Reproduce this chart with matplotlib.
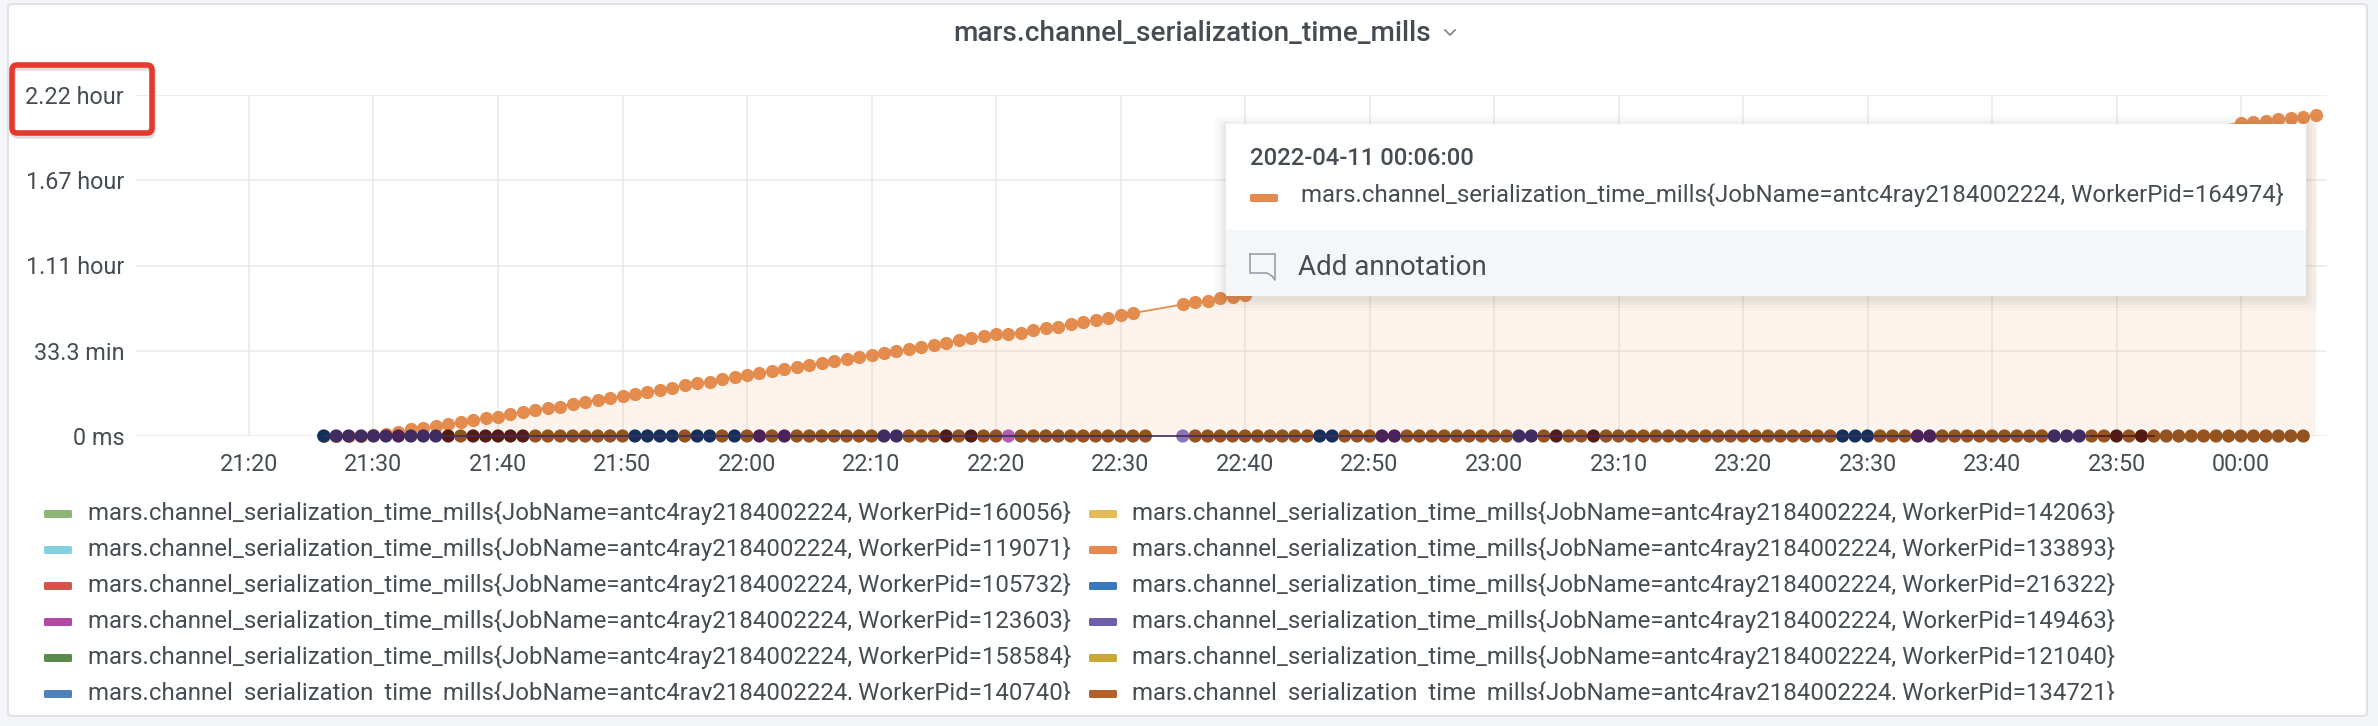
import pandas as pd
import matplotlib
matplotlib.use('Agg')
import matplotlib.pyplot as plt
from matplotlib.patches import Rectangle, FancyBboxPatch

plt.rcParams['font.family'] = ['Roboto', 'DejaVu Sans']

W, H = 2378, 726
TEXT = '#464c54'
GRID = '#e9e9eb'
ORANGE = '#e48c4e'

title = 'mars.channel_serialization_time_mills'
y_ticks = [0, 33.3, 66.6, 100, 133.2]
y_labels = ['0 ms', '33.3 min', '1.11 hour', '1.67 hour', '2.22 hour']
x_labels = ['21:20', '21:30', '21:40', '21:50', '22:00', '22:10', '22:20', '22:30', '22:40', '22:50',
            '23:00', '23:10', '23:20', '23:30', '23:40', '23:50', '00:00']

# minutes. 22:41 - 23:59 is behind the tooltip
orange_a = [0, 0, 0, 0, 0.3, 0.9, 1.7, 2.6, 3.0, 3.9, 4.6, 5.5, 6.1, 7.0, 7.6, 8.7, 9.4, 10.3, 11.1, 11.5,
            12.6, 13.1, 14.1, 14.8, 15.6, 16.5, 17.3, 18.0, 18.9, 19.8, 20.6, 21.2, 22.1, 22.9, 24.0, 24.5,
            25.4, 26.2, 26.8, 27.7, 28.6, 29.3, 30.2, 30.9, 31.8, 32.6, 33.2, 34.1, 34.9, 35.5, 36.5, 37.4,
            38.2, 39.1, 39.8, 40.0, 40.4, 41.3, 42.1, 42.7, 43.9, 44.6, 45.3, 46.2, 47.1, 48.0]  # from 21:26
orange_b = [51.4, 52.3, 52.9, 53.8, 54.4, 55.1]  # from 22:35
orange_c = [122.4, 122.8, 123.2, 123.7, 124.1, 124.7, 125.4]  # from 00:00

# top colour of the pile of zero series, one letter per minute
zero_a = 'NPPPPPVPPPRBRRRRRBBBBBBBBNNNNBNNBNBVBVBBBBBBBPPBBBRBRBBMBBBBBBBBBBBB'[:67]  # from 21:26
zero_b = ('LBBBBBBBBBBNNBBBVVBBBBBBBBB' + 'PPBRBBRBBBBBBBBBBBBBBBBBBB' + 'NNNBBBVVBBBBBBBBBPPPBBRBR'
          + 'BBBBBBBBBBBBB')  # from 22:35
zero_colors = {'N': '#12305a', 'P': '#3f2c60', 'V': '#4d2058', 'R': '#561a14', 'B': '#94531f',
               'M': '#b45cb0', 'L': '#8b73b5'}

job = 'mars.channel_serialization_time_mills{JobName=antc4ray2184002224, WorkerPid=%s}'
legend_left = ['160056', '119071', '105732', '123603', '158584', '140740']
legend_right = ['142063', '133893', '216322', '149463', '121040', '134721']
colors_left = ['#8db573', '#85d0e0', '#d4534a', '#b04aa5', '#5a8a4c', '#5080bb']
colors_right = ['#e5bb55', '#e5894d', '#3a78c0', '#6f5ea8', '#cca835', '#b5602a']


def minutes(start, n):
    day = '2022-04-10 ' if start > '12' else '2022-04-11 '
    return pd.date_range(day + start, periods=n, freq='min')


fig = plt.figure(figsize=(W / 100, H / 100), dpi=100, facecolor='#f4f5f8')

bg = fig.add_axes([0, 0, 1, 1], zorder=0)
bg.set_xlim(0, W)
bg.set_ylim(H, 0)
bg.axis('off')
bg.add_patch(FancyBboxPatch((8, 4), 2359, 712, boxstyle='round,pad=0,rounding_size=4',
                            fc='white', ec='#e0e2e6', lw=1.5))

# chart area
ax = fig.add_axes([136 / W, 1 - 436 / H, (2327 - 136) / W, 341 / H], zorder=1)
ax.patch.set_alpha(0)
for s in ax.spines.values():
    s.set_visible(False)

t0 = pd.Timestamp('2022-04-10 21:20')
per_px = pd.Timedelta(minutes=1) / 12.45
ax.set_xlim(t0 - 113 * per_px, t0 + (2327 - 249) * per_px)
ax.set_ylim(0, 133.2)
ax.set_yticks(y_ticks)
ax.set_yticklabels(y_labels)
ax.set_xticks(pd.date_range(t0, periods=len(x_labels), freq='10min'))
ax.set_xticklabels(x_labels)
ax.tick_params(axis='both', length=0, colors=TEXT, labelsize=16.8)
ax.tick_params(axis='y', pad=8.5)
ax.tick_params(axis='x', pad=12)
ax.grid(True, color=GRID, lw=1.1)
ax.set_axisbelow(True)

o_t = list(minutes('21:26', len(orange_a))) + list(minutes('22:35', len(orange_b))) + list(minutes('00:00', len(orange_c)))
o_v = orange_a + orange_b + orange_c
ax.fill_between(o_t, o_v, 0, color=ORANGE, alpha=0.1, lw=0, zorder=2)
ax.plot(o_t, o_v, color=ORANGE, lw=1.3, marker='o', ms=9.5, mew=0, clip_on=False, zorder=3)

z_t = list(minutes('21:26', len(zero_a))) + list(minutes('22:35', len(zero_b)))
z_c = [zero_colors[c] for c in zero_a + zero_b]
z_v = [0] * len(z_t)
ax.scatter(z_t, z_v, s=9.5 ** 2, c=z_c, lw=0, clip_on=False, zorder=4)
end_purple = pd.Timestamp('2022-04-10 23:48')
end_red = pd.Timestamp('2022-04-10 23:53')
ax.plot([z_t[0], end_purple], [0, 0], color='#3f2c60', lw=1.2, clip_on=False, zorder=5)
ax.plot([end_purple, end_red], [0, 0], color='#561a14', lw=1.2, clip_on=False, zorder=5)

# everything on top of the chart, in pixels
fg = fig.add_axes([0, 0, 1, 1], zorder=2)
fg.set_xlim(0, W)
fg.set_ylim(H, 0)
fg.axis('off')
fg.patch.set_alpha(0)

fg.text(953, 41, title, fontsize=20.2, fontweight='medium', color=TEXT, va='baseline')
fg.plot([1445, 1450, 1455], [30, 35, 30], color='#7b8087', lw=1.2)

for i in range(6):
    y = 514 + i * 36
    fg.add_patch(FancyBboxPatch((44, y - 4), 28, 8, boxstyle='round,pad=0,rounding_size=1.5',
                                fc=colors_left[i], ec='none'))
    fg.add_patch(FancyBboxPatch((1089, y - 4), 28, 8, boxstyle='round,pad=0,rounding_size=1.5',
                                fc=colors_right[i], ec='none'))
    fg.text(88, y + 6, job % legend_left[i], fontsize=17.25, color=TEXT, va='baseline')
    fg.text(1132, y + 6, job % legend_right[i], fontsize=17.25, color=TEXT, va='baseline')
# last legend row is cut off by the panel
fg.add_patch(Rectangle((30, 700), 2300, 15, fc='white', ec='none', zorder=5))

# tooltip
for grow, a in [(12, 0.015), (9, 0.02), (6, 0.03), (3, 0.04)]:
    fg.add_patch(FancyBboxPatch((1226 - grow, 124 - grow + 3), 1080 + 2 * grow, 172 + 2 * grow,
                                boxstyle='round,pad=0,rounding_size=6', fc='#30343c', alpha=a, ec='none', zorder=6))
fg.add_patch(Rectangle((1226, 124), 1080, 172, fc='white', ec='none', zorder=7))
fg.add_patch(Rectangle((1226, 230), 1080, 66, fc='#f5f6f8', ec='none', zorder=7))
fg.text(1250, 165, '2022-04-11 00:06:00', fontsize=17.2, fontweight='medium', color=TEXT, va='baseline', zorder=8)
fg.add_patch(FancyBboxPatch((1250, 194), 28, 8, boxstyle='round,pad=0,rounding_size=1.5', fc=ORANGE, ec='none', zorder=8))
fg.text(1301, 202, job % '164974', fontsize=17.25, color=TEXT, va='baseline', zorder=8)
fg.plot([1250, 1275, 1275, 1272, 1267, 1250, 1250], [254, 254, 280, 276, 273, 273, 254], color='#9a9fa8', lw=1.2, zorder=8)
fg.text(1298, 275, 'Add annotation', fontsize=20, color=TEXT, va='baseline', zorder=8)

# red highlight around the top tick
fg.add_patch(FancyBboxPatch((13, 68), 140, 68, boxstyle='round,pad=0,rounding_size=5',
                            fc='none', ec='#808080', lw=4, alpha=0.25, zorder=8))
fg.add_patch(FancyBboxPatch((12, 65), 140, 68, boxstyle='round,pad=0,rounding_size=5',
                            fc='none', ec='#e5392d', lw=4, zorder=9))

fig.savefig('out.png', dpi=100, facecolor=fig.get_facecolor())
